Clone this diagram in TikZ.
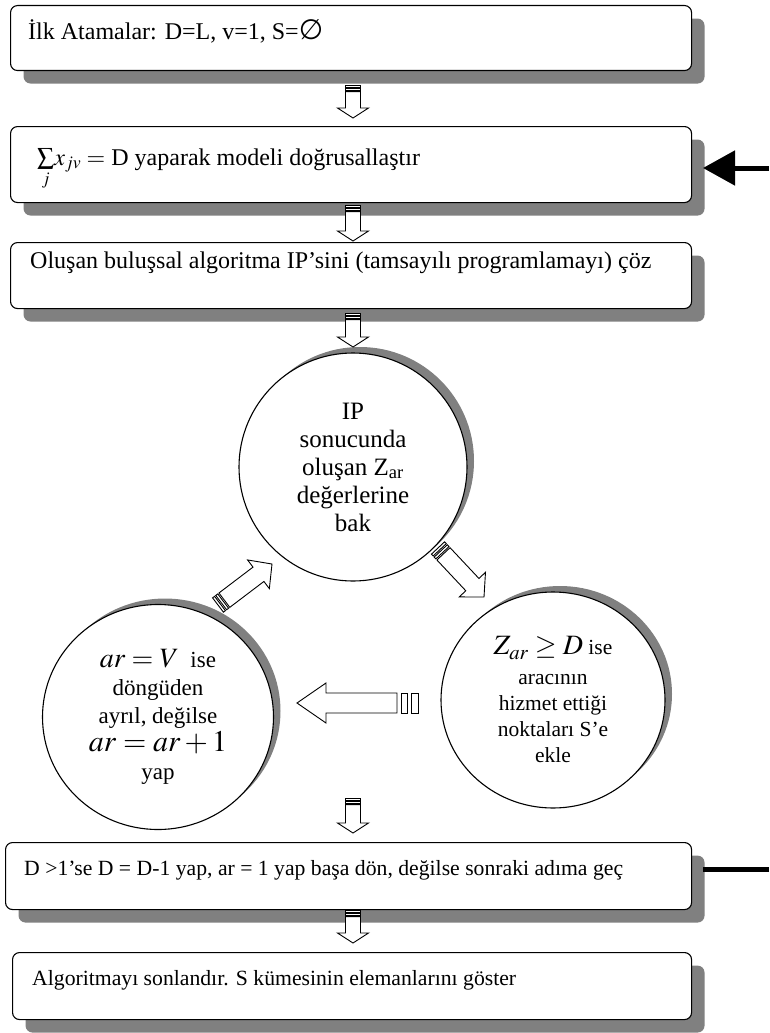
\documentclass[tikz,border=0pt]{standalone}
\usepackage{mathptmx}
\usepackage{amssymb}
\usepackage{fontspec}
\setmainfont{Liberation Serif}
\newfontfamily\symbfam{DejaVu Sans}
\usetikzlibrary{calc,arrows.meta,shapes.geometric,shadows}
\definecolor{shadowgray}{RGB}{128,128,128}

\newcommand\sarrow[7]{% start, end, shaft half width, head half width, head length, strip, gap
  \pgfmathsetmacro\saA{#6}%
  \pgfmathsetmacro\saB{#6+#7}%
  \pgfmathsetmacro\saC{2*#6+#7}%
  \pgfmathsetmacro\saD{2*#6+2*#7}%
  \coordinate (sa-h) at ($(#2)!#5pt!(#1)$);
  \coordinate (sa-a) at ($(#1)!\saA pt!(#2)$);
  \coordinate (sa-b) at ($(#1)!\saB pt!(#2)$);
  \coordinate (sa-c) at ($(#1)!\saC pt!(#2)$);
  \coordinate (sa-d) at ($(#1)!\saD pt!(#2)$);
  \draw[blk] ($(sa-d)!#3pt!90:(#2)$) -- ($(sa-h)!#3pt!90:(#2)$) -- ($(sa-h)!#4pt!90:(#2)$) -- (#2)
     -- ($(sa-h)!#4pt!-90:(#2)$) -- ($(sa-h)!#3pt!-90:(#2)$) -- ($(sa-d)!#3pt!-90:(#2)$) -- cycle;
  \draw[blk] ($(#1)!#3pt!90:(#2)$) -- ($(sa-a)!#3pt!90:(#2)$) -- ($(sa-a)!#3pt!-90:(#2)$) -- ($(#1)!#3pt!-90:(#2)$) -- cycle;
  \draw[blk] ($(sa-b)!#3pt!90:(#2)$) -- ($(sa-c)!#3pt!90:(#2)$) -- ($(sa-c)!#3pt!-90:(#2)$) -- ($(sa-b)!#3pt!-90:(#2)$) -- cycle;
}

\tikzset{
  every node/.style={font=\fontsize{24}{28}\selectfont},
  box/.style={draw, line width=1.1pt, fill=white, rounded corners=7pt, anchor=north west,
    inner sep=0pt, minimum width=681pt,
    drop shadow={shadow xshift=13pt, shadow yshift=-13pt, fill=shadowgray, opacity=1}},
  boxtext/.style={anchor=base west, inner sep=0pt},
  smalltext/.style={boxtext, font=\fontsize{21.7}{26}\selectfont},
  bubble/.style={ellipse, draw, line width=1.1pt, fill=white, inner sep=0pt, align=center,
    drop shadow={shadow xshift=7pt, shadow yshift=6pt, fill=shadowgray, opacity=1}},
  blk/.style={draw, line width=0.9pt, fill=white, line join=miter},
  feed/.style={line width=5pt},
}

\begin{document}
\begin{tikzpicture}[x=1pt,y=-1pt]
\useasboundingbox (0,0) rectangle (769,1033);

% boxes
\node[box, minimum height=65pt] (b1) at (10,5) {};
\node[box, minimum height=76pt] (b2) at (10,126) {};
\node[box, minimum height=66pt] (b3) at (10,242) {};
\node[box, minimum height=67pt, minimum width=686pt] (b4) at (5,842) {};
\node[box, minimum height=67pt, minimum width=679pt] (b5) at (12,952) {};

\node[boxtext] (t1) at (28,40) {İlk Atamalar: D=L, v=1, S={\symbfam\fontsize{28}{28}\selectfont ∅}};
\node[boxtext] (t2) at (37,165) {$\sum\limits_{j}\! x_{jv} =$ D yaparak modeli doğrusallaştır};
\node[boxtext] (t3) at (30,268) {Oluşan buluşsal algoritma IP’sini (tamsayılı programlamayı) çöz};
\node[smalltext] (t4) at (24,875) {D >1’se D = D-1 yap, ar = 1 yap başa dön, değilse sonraki adıma geç};
\node[smalltext] (t5) at (32,985) {Algoritmayı sonlandır. S kümesinin elemanlarını göster};

% circles
\node[bubble, minimum width=228pt, minimum height=228pt, font=\fontsize{25}{28}\selectfont] (c1) at (353,467)
  {IP\\sonucunda\\oluşan Z\textsubscript{ar}\\değerlerine\\bak};
\node[bubble, minimum width=231pt, minimum height=225pt, font=\fontsize{23}{28}\selectfont] (c2) at (158,717)
  {{\fontsize{28}{28}\selectfont$ar = V$}\ \ ise\\döngüden\\ayrıl, değilse\\{\fontsize{30}{30}\selectfont$ar = ar + 1$}\\yap};
\node[bubble, minimum width=224pt, minimum height=216pt, font=\fontsize{21.5}{26}\selectfont] (c3) at (553,700)
  {{\fontsize{28}{28}\selectfont$Z_{ar} \geq D$} ise\\[4pt]aracının\\hizmet ettiği\\noktaları S’e\\ekle};

% block arrow end points
\coordinate (a1s) at (353,85);  \coordinate (a1e) at (353,118);
\coordinate (a2s) at (353,205); \coordinate (a2e) at (353,241);
\coordinate (a3s) at (353,313); \coordinate (a3e) at (353,347);
\coordinate (a4s) at (353,798); \coordinate (a4e) at (353,833);
\coordinate (a5s) at (353,910); \coordinate (a5e) at (353,943);
\coordinate (d1s) at (438,548); \coordinate (d1e) at (484,597);
\coordinate (d2s) at (218,605); \coordinate (d2e) at (272,564);
\coordinate (h1s) at (418,703); \coordinate (h1e) at (297,703);

\sarrow{a1s}{a1e}{7.5}{15.5}{10}{2}{1.3}
\sarrow{a2s}{a2e}{7.5}{15.5}{10}{2}{1.3}
\sarrow{a3s}{a3e}{7.5}{15.5}{10}{2}{1.3}
\sarrow{a4s}{a4e}{7.5}{15.5}{10}{2}{1.3}
\sarrow{a5s}{a5e}{7.5}{15.5}{10}{2}{1.3}
\sarrow{d1s}{d1e}{9}{18}{17}{2.5}{1.5}
\sarrow{d2s}{d2e}{9}{18}{17}{2.5}{1.5}
\sarrow{h1s}{h1e}{10}{20}{29}{6.5}{4}

% feedback lines at the right
\coordinate (fb2s) at (769,168); \coordinate (fb2e) at (703,168);
\coordinate (fb4s) at (769,869); \coordinate (fb4e) at (703,869);
\draw[feed, -{Triangle[length=32pt,width=34pt]}] (fb2s) -- (fb2e);
\draw[feed] (fb4s) -- (fb4e);
\end{tikzpicture}
\end{document}
